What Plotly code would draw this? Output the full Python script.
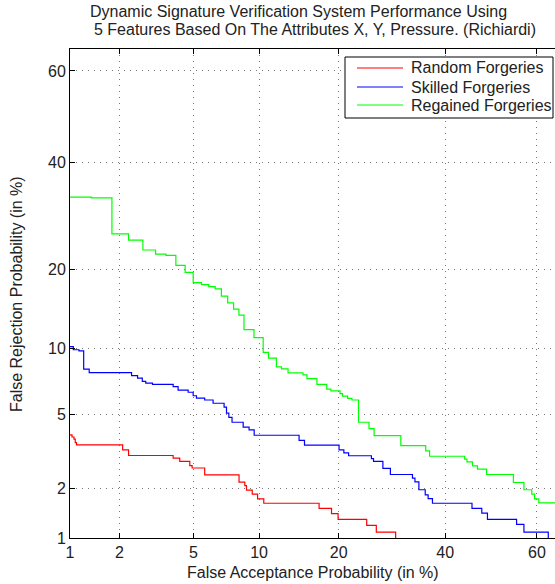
from statistics import NormalDist
import plotly.graph_objects as go

nd = NormalDist()
def probit(p):
    return nd.inv_cdf(p / 100.0)

# ---- data (percent) ----
random_fa = [1.0, 1.03, 1.06, 1.08, 1.10, 2.09, 2.26, 3.95, 4.27, 4.80, 4.93, 5.68, 8.19, 8.68, 8.83,
             9.35, 9.85, 10.46, 17.1, 18.9, 19.9, 24.6, 26.3, 29.9]
random_fr = [3.95, 3.85, 3.75, 3.6, 3.5, 3.29, 3.07, 2.97, 2.85, 2.70, 2.62, 2.40, 2.18, 2.08, 1.96,
             1.86, 1.74, 1.64, 1.53, 1.42, 1.31, 1.20, 1.09, 1.0]

skilled_fa = [1.0, 1.05, 1.14, 1.22, 1.32, 2.35, 2.54, 2.70, 2.82, 3.07, 3.95, 4.19, 4.71, 4.99, 5.18,
              5.68, 6.23, 7.01, 7.19, 7.37, 7.62, 8.54, 9.06, 9.53, 14.44, 15.13, 20.05, 20.8, 21.56,
              25.43, 25.8, 27.5, 28.9, 33.2, 33.7, 34.5, 35.8, 36.4, 37.3, 45.8, 47.95, 49.2, 55.6,
              57.2, 62.4]
skilled_fr = [10.22, 9.91, 9.80, 8.17, 7.89, 7.65, 7.44, 7.19, 7.06, 6.98, 6.81, 6.56, 6.41, 6.17, 6.01,
              5.89, 5.68, 5.44, 5.08, 4.84, 4.58, 4.33, 4.19, 3.93, 3.70, 3.49, 3.29, 3.17, 3.06,
              2.95, 2.85, 2.61, 2.41, 2.30, 2.19, 1.97, 1.84, 1.75, 1.64, 1.53, 1.43, 1.31, 1.22,
              1.09, 1.0]

regained_fa = [1.0, 1.36, 1.81, 2.26, 2.72, 3.19, 3.62, 4.08, 4.55, 4.99, 5.48, 5.94, 6.37, 6.81, 7.28,
               7.74, 8.18, 8.61, 9.51, 10.4, 10.94, 11.78, 12.35, 13.1, 14.94, 15.45, 16.8, 18.2,
               18.8, 20.2, 20.6, 21.4, 22.1, 23.2, 25.0, 25.9, 30.9, 35.9, 36.7, 44.2, 44.7, 45.9,
               47.0, 49.0, 54.9, 57.2, 58.9, 59.5, 60.4, 66.0]
regained_fr = [32.85, 32.7, 25.9, 24.8, 23.1, 22.4, 22.2, 20.6, 19.5, 18.0, 17.7, 17.4, 17.1, 16.1, 15.2,
               14.4, 13.67, 12.0, 11.14, 9.66, 9.13, 8.36, 8.20, 7.87, 7.71, 7.41, 6.98, 6.63,
               6.50, 6.31, 6.14, 5.99, 5.89, 4.58, 4.25, 3.91, 3.47, 3.25, 3.04, 2.93, 2.83, 2.69,
               2.58, 2.41, 2.17, 1.97, 1.86, 1.74, 1.65, 1.65]

tick_values = [1, 2, 5, 10, 20, 40, 60]
tick_labels = ["1", "2", "5", "10", "20", "40", "60"]
x_limits = [1.0, 63.8]
y_limits = [1.0, 64.6]

series_names = ["Random Forgeries", "Skilled Forgeries", "Regained Forgeries"]
series_colors = ["#ff0000", "#0000ff", "#00ff00"]
series_fa = [random_fa, skilled_fa, regained_fa]
series_fr = [random_fr, skilled_fr, regained_fr]

title_line1 = "Dynamic Signature Verification System Performance Using"
title_line2 = "5 Features Based On The Attributes X, Y, Pressure. (Richiardi)"
x_title = "False Acceptance Probability (in %)"
y_title = "False Rejection Probability (in %)"

FONT = "Liberation Sans, Arial, Helvetica, sans-serif"
TXT = "#222222"

# plot-area geometry in pixels
L, R, T, B = 70, 555, 49, 538
W, H = R - L, B - T
def px(xp):
    return (xp - L) / W
def py(yp):
    return (B - yp) / H

fig = go.Figure()
for name, fa, fr, col in zip(series_names, series_fa, series_fr, series_colors):
    fig.add_trace(go.Scatter(
        x=[probit(v) for v in fa], y=[probit(v) for v in fr],
        mode="lines", line=dict(color=col, width=1.2, shape="hv"),
        name=name, hoverinfo="skip", showlegend=False))

tv = [probit(v) for v in tick_values]
axis_common = dict(
    tickvals=tv, ticktext=tick_labels, showgrid=True, gridcolor="#777777",
    griddash="1px,5px", gridwidth=1, zeroline=False, showline=True, linecolor="black",
    linewidth=1, ticks="inside", ticklen=5, tickcolor="black", automargin=False,
    tickfont=dict(family=FONT, size=16, color=TXT),
)
fig.update_xaxes(range=[probit(x_limits[0]), probit(x_limits[1])], mirror="ticks", **axis_common)
fig.update_yaxes(range=[probit(y_limits[0]), probit(y_limits[1])], mirror=False, **axis_common)

shapes = [dict(type="rect", xref="paper", yref="paper", x0=px(345), x1=px(553), y0=py(118), y1=py(57),
               line=dict(color="black", width=1), fillcolor="white", layer="above")]
annotations = [
    dict(text=title_line1, xref="paper", yref="paper", x=px(88), y=py(12), xanchor="left",
         yanchor="middle", showarrow=False, font=dict(family=FONT, size=16, color=TXT)),
    dict(text=title_line2, xref="paper", yref="paper", x=px(92), y=py(30), xanchor="left",
         yanchor="middle", showarrow=False, font=dict(family=FONT, size=16, color=TXT)),
    dict(text=x_title, xref="paper", yref="paper", x=px(313), y=py(572), xanchor="center",
         yanchor="middle", showarrow=False, font=dict(family=FONT, size=16, color=TXT)),
    dict(text=y_title, xref="paper", yref="paper", x=px(16), y=py(294), xanchor="center",
         yanchor="middle", textangle=-90, showarrow=False, font=dict(family=FONT, size=16, color=TXT)),
]
for i, (name, col) in enumerate(zip(series_names, series_colors)):
    ly = [68, 87, 105][i]
    shapes.append(dict(type="line", xref="paper", yref="paper", x0=px(357), x1=px(403),
                       y0=py(ly), y1=py(ly), line=dict(color=col, width=1.2), layer="above"))
    annotations.append(dict(text=name, xref="paper", yref="paper", x=px(409), y=py(ly),
                            xanchor="left", yanchor="middle", showarrow=False,
                            font=dict(family=FONT, size=16, color=TXT)))

fig.update_layout(
    width=555, height=584,
    margin=dict(l=L, r=555 - R, t=T, b=584 - B),
    paper_bgcolor="white", plot_bgcolor="white",
    showlegend=False, shapes=shapes, annotations=annotations,
)

fig.write_html("out.html", config={"displayModeBar": False},
               post_script="document.body.style.margin='0';document.body.style.overflow='hidden';")
